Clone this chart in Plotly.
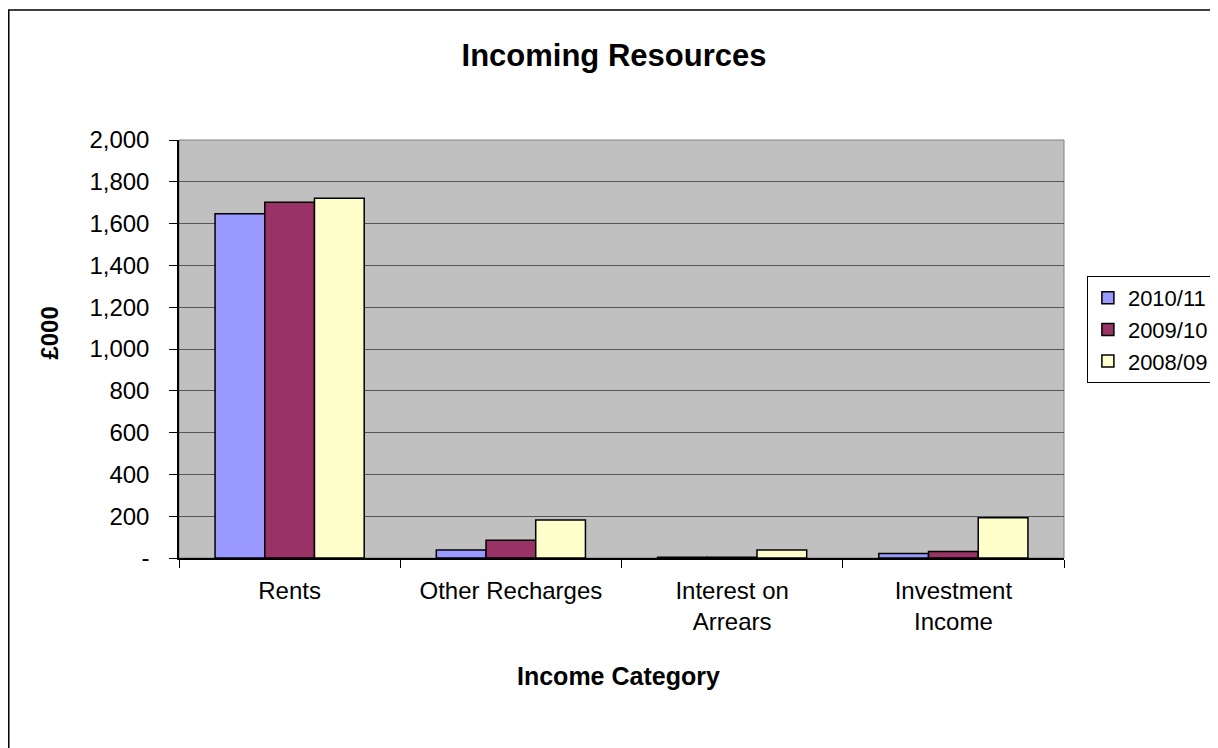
import plotly.graph_objects as go

categories = ["Rents", "Other Recharges", "Interest on<br>Arrears", "Investment<br>Income"]
series_names = ["2010/11", "2009/10", "2008/09"]
values_2010_11 = [1647, 38, 4, 21]
values_2009_10 = [1702, 85, 4, 31]
values_2008_09 = [1721, 182, 38, 193]
colors = ["#9999FF", "#993366", "#FFFFCC"]
y_tickvals = list(range(0, 2001, 200))
y_ticktext = ["-"] + [f"{v:,}" for v in y_tickvals[1:]]

FONT = "Liberation Sans, Arial, sans-serif"

fig = go.Figure()
for name, vals, col in zip(series_names, [values_2010_11, values_2009_10, values_2008_09], colors):
    fig.add_trace(go.Bar(
        x=categories, y=vals, name=name,
        marker=dict(color=col, line=dict(color="black", width=1.5)),
    ))

# page is offset by ~8px (body margin); compensate
fig.update_layout(
    width=1218, height=748,
    margin=dict(l=171, r=158, t=132, b=198),
    paper_bgcolor="white",
    plot_bgcolor="#C0C0C0",
    barmode="group",
    bargap=0.326,
    bargroupgap=0,
    font=dict(family=FONT, color="black", size=22),
    title=dict(text="<b>Incoming Resources</b>", x=(614 - 8) / 1218, xanchor="center",
               y=1 - 47 / 748, yanchor="middle", font=dict(size=31, family=FONT, color="black")),
    showlegend=True,
    legend=dict(x=(1091 - 179) / 889, y=(558 - 276) / 418, xanchor="left", yanchor="top",
                bgcolor="white", bordercolor="black", borderwidth=1,
                font=dict(size=22, family=FONT, color="black"),
                tracegroupgap=0, itemwidth=30),
    xaxis=dict(
        showgrid=False, ticks="outside", tickson="boundaries", ticklen=8,
        tickcolor="black", tickwidth=1,
        showline=True, linecolor="black", linewidth=1.5,
        ticklabelstandoff=10,
        tickfont=dict(size=24, family=FONT, color="black"),
    ),
    yaxis=dict(
        range=[0, 2000], tickvals=y_tickvals, ticktext=y_ticktext,
        showgrid=True, gridcolor="#555555", gridwidth=1,
        ticks="outside", ticklen=8, tickcolor="black", tickwidth=1,
        showline=True, linecolor="black", linewidth=1.5,
        zeroline=False,
        ticklabelstandoff=15,
        tickfont=dict(size=24, family=FONT, color="black"),
    ),
)

# plot-area border (gray)
fig.add_shape(type="rect", xref="paper", yref="paper", x0=0, x1=1, y0=0, y1=1,
              line=dict(color="#808080", width=1), layer="below")
# outer chart border
fig.add_shape(type="rect", xref="paper", yref="paper",
              x0=(8 - 179) / 889, x1=(1240 - 179) / 889,
              y0=(558 - 770) / 418, y1=(558 - 10) / 418,
              line=dict(color="black", width=1.5))

fig.add_annotation(text="<b>Income Category</b>", xref="paper", yref="paper",
                   x=(620 - 179) / 889, y=(558 - 676) / 418, showarrow=False,
                   xanchor="center", yanchor="middle",
                   font=dict(size=25, family=FONT, color="black"))
fig.add_annotation(text="<b>£000</b>", xref="paper", yref="paper",
                   x=(48 - 179) / 889, y=(558 - 333) / 418, showarrow=False,
                   textangle=-90, xanchor="center", yanchor="middle",
                   font=dict(size=24, family=FONT, color="black"))

fig.write_html("out.html")
